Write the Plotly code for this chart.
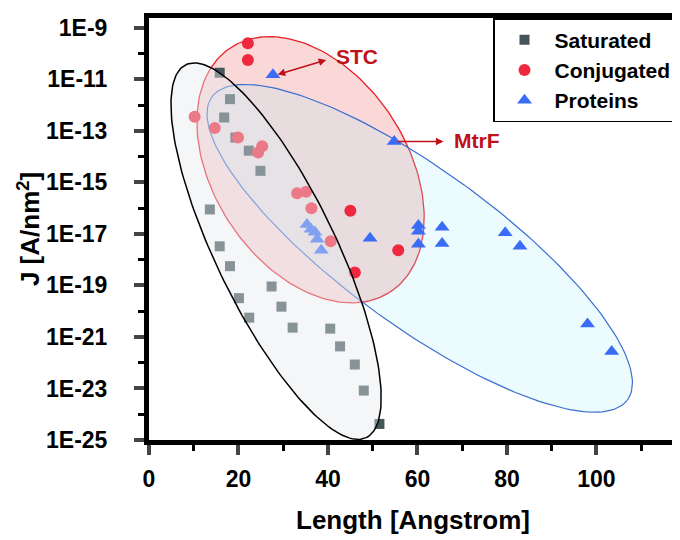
import numpy as np
import plotly.graph_objects as go

# length (Angstrom) and current density J (A/nm^2)
sat_len = [15.8, 18.1, 16.8, 19.3, 22.3, 24.9, 13.6, 15.8, 18.1, 27.4, 20.1, 29.6, 22.4, 32.1, 40.5, 42.7, 46.0, 48.0, 51.5]
sat_j = [1.8e-11, 1.7e-12, 3.3e-13, 5.5e-14, 1.7e-14, 2.8e-15, 8.9e-17, 3.3e-18, 5.6e-19, 9.1e-20, 3.2e-20,
         1.5e-20, 5.6e-21, 2.3e-21, 2.1e-21, 4.3e-22, 8.5e-23, 8.3e-24, 4.2e-25]

conj_len = [22.1, 22.1, 10.2, 14.7, 19.9, 25.3, 24.4, 33.1, 35.1, 36.3, 45.0, 40.6, 55.7, 46.0]
conj_j = [2.5e-10, 5.6e-11, 3.5e-13, 1.3e-13, 5.5e-14, 2.5e-14, 1.45e-14, 3.8e-16, 4.3e-16, 9.8e-17,
          7.9e-17, 5.2e-18, 2.3e-18, 3.2e-19]

prot_len = [27.7, 54.8, 35.3, 36.2, 37.1, 37.6, 38.5, 49.4, 60.2, 60.2, 60.2, 65.5, 65.5, 79.6, 82.9, 98.0, 103.4]
prot_j = [1.5e-11, 3.9e-14, 2.3e-17, 1.5e-17, 1.15e-17, 6.2e-18, 2.3e-18, 6.8e-18, 2.1e-17, 1.26e-17,
          4.0e-18, 1.8e-17, 4.2e-18, 1.1e-17, 3.3e-18, 3.2e-21, 2.7e-22]

y_tick_exp = [-9, -11, -13, -15, -17, -19, -21, -23, -25]
y_minor_exp = [-10, -12, -14, -16, -18, -20, -22, -24]
x_ticks = [0, 20, 40, 60, 80, 100]
x_minor = [10, 30, 50, 70, 90, 110]

FONT = "Liberation Sans"
PX_X = 4.47     # pixels per Angstrom
PX_DEC = 26.06  # pixels per decade


def ellipse(cx, cy_log, a, b, ang):
    # rotated ellipse drawn in screen pixels, converted back to data
    t = np.linspace(0, 2 * np.pi, 200)
    th = np.radians(ang)
    dx = a * np.cos(th) * np.cos(t) - b * np.sin(th) * np.sin(t)
    dy = a * np.sin(th) * np.cos(t) + b * np.cos(th) * np.sin(t)
    return cx + dx / PX_X, 10 ** (cy_log - dy / PX_DEC)


fig = go.Figure()

ex, ey = ellipse(36.1, -14.51, 147, 97, 57.7)
fig.add_trace(go.Scatter(x=ex, y=ey, mode="lines", fill="toself", fillcolor="rgba(235,90,90,0.24)",
                         line=dict(color="#e8202a", width=1.3), hoverinfo="skip", showlegend=False))
ex, ey = ellipse(60.5, -17.56, 258, 78, 36.5)
fig.add_trace(go.Scatter(x=ex, y=ey, mode="lines", fill="toself", fillcolor="rgba(170,235,252,0.22)",
                         line=dict(color="#3a6fd0", width=1.2), hoverinfo="skip", showlegend=False))

fig.add_trace(go.Scatter(x=sat_len, y=sat_j, mode="markers", name="Saturated",
                         marker=dict(symbol="square", size=10, color="#46555a")))
fig.add_trace(go.Scatter(x=conj_len, y=conj_j, mode="markers", name="Conjugated",
                         marker=dict(symbol="circle", size=12, color="#f0283f")))
fig.add_trace(go.Scatter(x=prot_len, y=prot_j, mode="markers", name="Proteins",
                         marker=dict(symbol="triangle-up", size=13, color="#3a6cf5")))

ex, ey = ellipse(28.4, -17.67, 209, 60, 64.5)
fig.add_trace(go.Scatter(x=ex, y=ey, mode="lines", fill="toself", fillcolor="rgba(228,234,238,0.42)",
                         line=dict(color="black", width=1.5), hoverinfo="skip", showlegend=False))

red = "#c0101a"
fig.add_annotation(x=39.6, y=-10.25, ax=-50, ay=15, showarrow=True, arrowhead=2, arrowside="end+start",
                   arrowsize=1, arrowwidth=1.5, arrowcolor=red, text="")
fig.add_annotation(x=46.5, y=-10.11, text="STC", showarrow=False,
                   font=dict(family=FONT, size=21, color=red, weight="bold"))
fig.add_annotation(x=65.8, y=-13.41, ax=-47, ay=0, showarrow=True, arrowhead=2,
                   arrowsize=1, arrowwidth=1.5, arrowcolor=red, text="")
fig.add_annotation(x=67.8, y=-13.38, text="MtrF", showarrow=False, xanchor="left",
                   font=dict(family=FONT, size=21, color=red, weight="bold"))

fig.update_xaxes(range=[0, 118], tickvals=x_ticks, ticks="outside", ticklen=10, tickwidth=4,
                 minor=dict(tickvals=x_minor, ticks="outside", ticklen=6, tickwidth=3, tickcolor="black"),
                 showline=True, linewidth=5, linecolor="black", mirror=True, showgrid=False, zeroline=False,
                 ticklabelstandoff=4,
                 tickfont=dict(family=FONT, size=23, color="black", weight="bold"),
                 title=dict(text="Length [Angstrom]", standoff=22,
                            font=dict(family=FONT, size=26, color="black", weight="bold")))
fig.update_yaxes(type="log", range=[-25, -8.62],
                 tickvals=[10.0 ** e for e in y_tick_exp], ticktext=["1E%d" % e for e in y_tick_exp],
                 ticks="outside", ticklen=10, tickwidth=4,
                 minor=dict(tickvals=[10.0 ** e for e in y_minor_exp], ticks="outside", ticklen=6,
                            tickwidth=3, tickcolor="black"),
                 showline=True, linewidth=5, linecolor="black", mirror=True, showgrid=False, zeroline=False,
                 ticklabelstandoff=22,
                 tickfont=dict(family=FONT, size=23, color="black", weight="bold"),
                 title=dict(text="J [A/nm<sup>2</sup>]", standoff=0,
                            font=dict(family=FONT, size=26, color="black", weight="bold")))

fig.update_layout(
    width=680, height=540,
    margin=dict(l=141, r=11, t=5, b=108),
    plot_bgcolor="white", paper_bgcolor="white",
    legend=dict(x=1.0, y=1.0, xanchor="right", yanchor="top", bgcolor="white",
                bordercolor="black", borderwidth=1.5, itemwidth=50, tracegroupgap=0,
                font=dict(family=FONT, size=21, color="black", weight="bold")),
)

fig.write_html("out.html")
